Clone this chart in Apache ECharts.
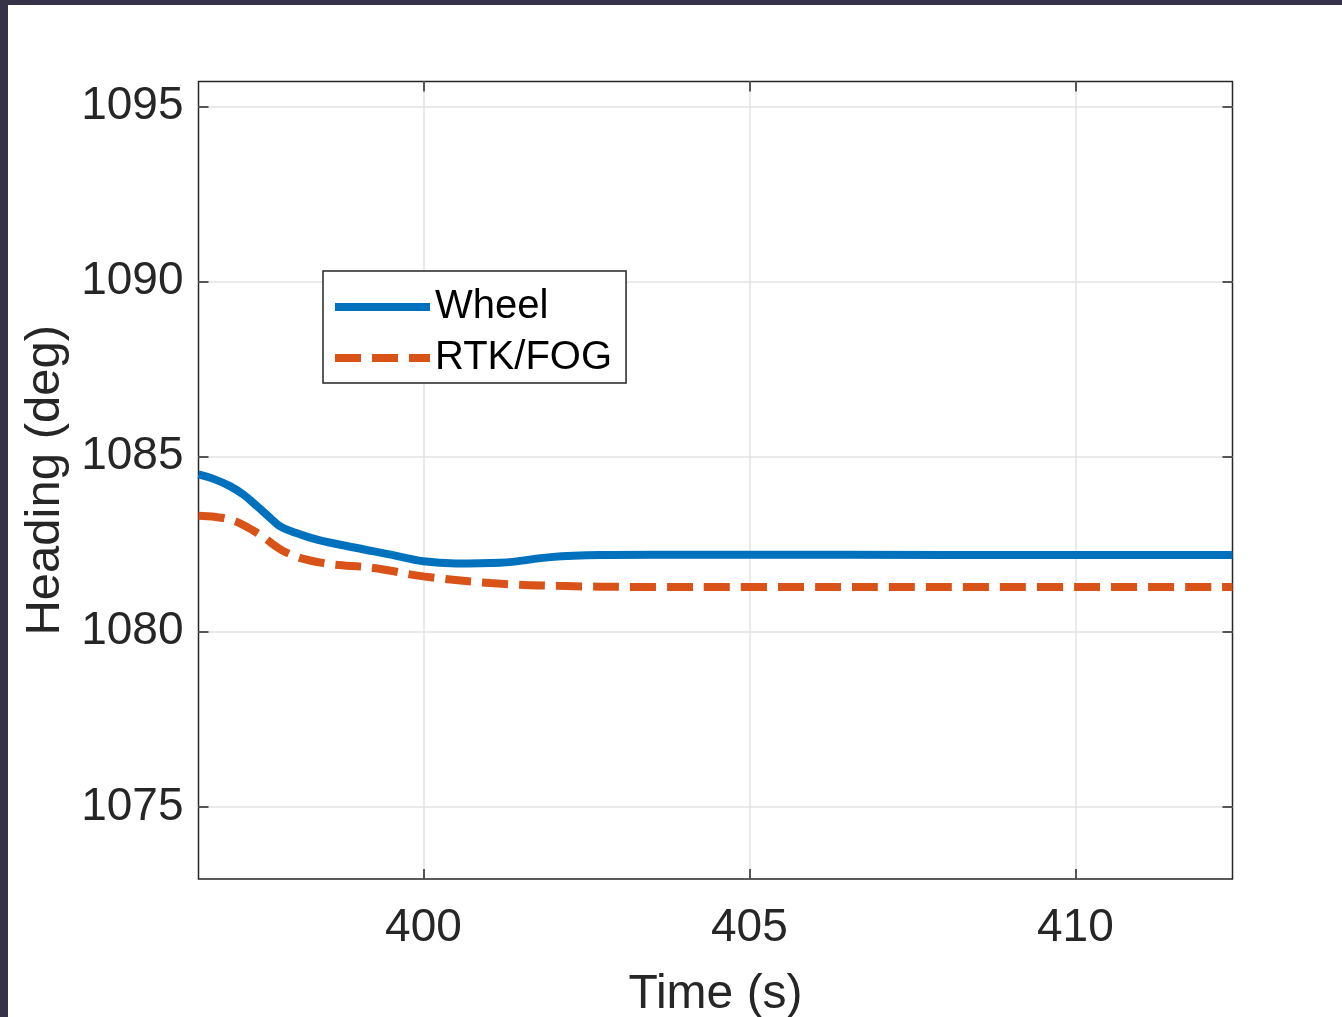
<!DOCTYPE html>
<html>
<head>
<meta charset="utf-8">
<script src="https://cdn.jsdelivr.net/npm/echarts@6/dist/echarts.min.js"></script>
<style>
html,body{margin:0;padding:0;background:#35324a;width:1342px;height:1017px;overflow:hidden;}
#chart{position:absolute;left:8px;top:5px;width:1334px;height:1012px;background:#ffffff;}
</style>
</head>
<body>
<div id="chart"></div>
<script>
// ---- data ----
const wheelTime = [396.55, 396.8, 397.04, 397.25, 397.45, 397.65, 397.81, 398.0, 398.37, 398.98, 399.5, 400.0, 400.5, 401.18, 401.95, 402.71, 403.5, 405, 408, 412.41];
const wheelHeading = [1084.49, 1084.35, 1084.15, 1083.9, 1083.58, 1083.25, 1083.0, 1082.85, 1082.63, 1082.39, 1082.2, 1082.01, 1081.95, 1081.97, 1082.13, 1082.19, 1082.2, 1082.2, 1082.19, 1082.19];
const rtkTime = [396.55, 397.04, 397.45, 397.91, 398.47, 399.24, 400.0, 401.03, 402.05, 403.33, 405, 408, 412.41];
const rtkHeading = [1083.31, 1083.2, 1082.82, 1082.25, 1081.96, 1081.82, 1081.58, 1081.39, 1081.31, 1081.28, 1081.28, 1081.28, 1081.28];
const xTicks = [400, 405, 410];
const yTicks = [1075, 1080, 1085, 1090, 1095];
const seriesNames = ['Wheel', 'RTK/FOG'];

const zip = (a, b) => a.map((v, i) => [v, b[i]]);
const FONT = 'Liberation Sans, Arial, Helvetica, sans-serif';
const AX = '#262626';
const xMin = 396.55, xMax = 412.41, yMin = 1072.94, yMax = 1095.71;

const chart = echarts.init(document.getElementById('chart'), null, {renderer: 'canvas'});

const baseX = {
  type: 'value', min: xMin, max: xMax,
  axisLine: {show: false},
  axisTick: {show: true, inside: true, length: 10, customValues: xTicks, lineStyle: {color: AX, width: 1.5}},
  splitLine: {show: false},
};
const baseY = {
  type: 'value', min: yMin, max: yMax,
  axisLine: {show: false},
  axisTick: {show: true, inside: true, length: 10, customValues: yTicks, lineStyle: {color: AX, width: 1.5}},
  splitLine: {show: false},
};

chart.setOption({
  animation: false,
  backgroundColor: '#ffffff',
  grid: {left: 190.5, top: 76.5, width: 1034, height: 797.5, show: true, borderColor: AX, borderWidth: 1.5,
         backgroundColor: 'transparent', containLabel: false, outerBoundsMode: 'none'},
  legend: {
    orient: 'vertical', left: 315, top: 266,
    itemWidth: 95, itemHeight: 14, itemGap: 11,
    padding: [16, 14, 5, 8],
    backgroundColor: '#ffffff', borderColor: '#262626', borderWidth: 1.5, borderRadius: 0,
    textStyle: {fontFamily: FONT, fontSize: 40, lineHeight: 40, color: '#000000'},
    itemStyle: {opacity: 0},
    lineStyle: {width: 8},
    data: seriesNames
  },
  xAxis: [
    Object.assign({}, baseX, {
      position: 'bottom',
      name: 'Time (s)', nameLocation: 'middle', nameGap: 92,
      nameTextStyle: {fontFamily: FONT, fontSize: 48, color: AX},
      axisLabel: {show: true, customValues: xTicks, margin: 26, fontFamily: FONT, fontSize: 46, color: AX,
                  formatter: v => String(v)},
      splitLine: {show: true, lineStyle: {color: '#e3e3e3', width: 1.5}}
    }),
    Object.assign({}, baseX, {position: 'top', axisLabel: {show: false}})
  ],
  yAxis: [
    Object.assign({}, baseY, {
      position: 'left',
      name: 'Heading (deg)', nameLocation: 'middle', nameGap: 128,
      nameTextStyle: {fontFamily: FONT, fontSize: 49, color: AX},
      axisLabel: {show: true, customValues: yTicks, margin: 15, fontFamily: FONT, fontSize: 46, color: AX,
                  formatter: v => String(v)},
      splitLine: {show: true, lineStyle: {color: '#e3e3e3', width: 1.5}}
    }),
    Object.assign({}, baseY, {position: 'right', axisLabel: {show: false}})
  ],
  series: [
    {
      name: seriesNames[0], type: 'line', data: zip(wheelTime, wheelHeading),
      showSymbol: false, symbol: 'none', smooth: 0.4,
      lineStyle: {color: '#0072BD', width: 8},
      itemStyle: {color: '#0072BD'}, z: 3
    },
    {
      name: seriesNames[1], type: 'line', data: zip(rtkTime, rtkHeading),
      showSymbol: false, symbol: 'none', smooth: 0.4,
      lineStyle: {color: '#D95319', width: 8, type: [26, 11], cap: 'butt'},
      itemStyle: {color: '#D95319'}, z: 2
    }
  ]
});
</script>
</body>
</html>
